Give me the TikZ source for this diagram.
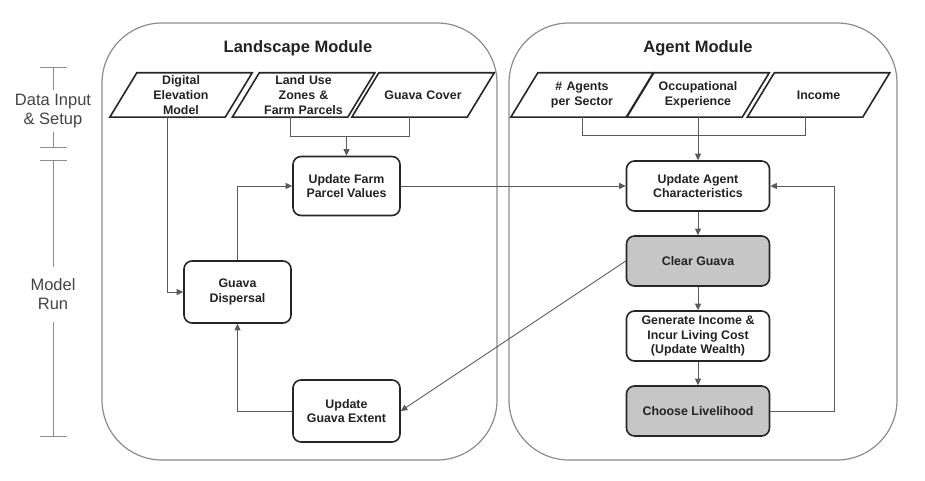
\documentclass[tikz,border=0pt]{standalone}
\usepackage{fontspec}
\setmainfont{Liberation Sans}
\usepackage{xcolor}
\usetikzlibrary{shapes.geometric, arrows.meta, positioning, calc}

\definecolor{modline}{HTML}{8C8C8C}
\definecolor{boxline}{HTML}{262626}
\definecolor{linkline}{HTML}{5A5A5A}
\definecolor{boxshade}{HTML}{C6C6C6}
\definecolor{inktext}{HTML}{222222}

\begin{document}
\begin{tikzpicture}[
    x=1pt, y=1pt,
    node distance=75pt,
    module/.style={rectangle, draw=modline, line width=1.2pt, rounded corners=60pt, minimum height=437pt},
    modtitle/.style={font=\fontsize{16.5}{20}\selectfont\bfseries, text=inktext},
    datain/.style={rectangle, text width=84pt, minimum height=44pt, inner xsep=2pt, inner ysep=0pt, align=center, text=inktext, font=\fontsize{12.4}{14.6}\selectfont\bfseries},
    paraline/.style={draw=boxline, line width=1.6pt, line join=miter},
    box/.style={rectangle, draw=boxline, line width=1.6pt, fill=white, rounded corners=8pt, align=center, text=inktext, font=\fontsize{12.4}{14.6}\selectfont\bfseries},
    lbox/.style={box, minimum width=107pt, minimum height=62pt},
    rbox/.style={box, minimum width=143pt, minimum height=50pt, inner ysep=0pt},
    greybox/.style={fill=boxshade},
    link/.style={draw=linkline, line width=0.9pt},
    arrow/.style={link, -{Triangle[length=6.5pt, width=6pt]}},
    span/.style={draw=modline, line width=1pt, {Bar[width=27pt]}-},
    sidetext/.style={align=center, text=inktext!85, font=\fontsize{16.5}{19}\selectfont}
]

\useasboundingbox (0,0) rectangle (925,480);

% Modules
\node[module, minimum width=395pt] (landmod) at (299.5,238.5) {};
\node[module, minimum width=388pt] (agentmod) at (703,238.5) {};
\node[modtitle] (landtitle) at (298,432) {Landscape Module};
\node[modtitle] (agenttitle) at (698,432) {Agent Module};

% Data inputs
\node[datain] (dem) at (181,385) {Digital\\Elevation\\Model};
\node[datain, right of=dem, node distance=122.5pt] (landuse) {Land Use\\Zones \&\\Farm Parcels};
\node[datain, right of=landuse, node distance=119.5pt] (cover) {Guava Cover};
\node[datain] (agents) at (582,385) {\# Agents\\per Sector};
\node[datain, right of=agents, node distance=116pt] (occup) {Occupational\\Experience};
\node[datain, right of=occup, node distance=120.5pt] (income) {Income};
\foreach \n in {dem,landuse,cover,agents,occup,income}
    \draw[paraline] ([xshift=-27pt]\n.south west) -- (\n.north west)
        -- ([xshift=27pt]\n.north east) -- (\n.south east) -- cycle;

% Landscape processes
\node[lbox, minimum height=59pt] (farm) at (346.5,294) {Update Farm\\Parcel Values};
\node[lbox] (disp) at (237.5,188) {Guava\\Dispersal};
\node[lbox] (extent) at (346.5,69) {Update\\Guava Extent};

% Agent processes
\node[rbox] (agentupd) at (698,294) {Update Agent\\Characteristics};
\node[rbox, greybox, below of=agentupd] (clear) {Clear Guava};
\node[rbox, below of=clear] (wealth) {Generate Income \&\\Incur Living Cost\\(Update Wealth)};
\node[rbox, greybox, below of=wealth] (choose) {Choose Livelihood};

% Timeline
\node[sidetext, inner ysep=3.5pt] (setup) at (53,369) {Data Input\\\& Setup};
\node[sidetext, inner ysep=12pt] (modelrun) at (53,185.5) {Model\\Run};
\coordinate (setuptop) at (53,413);
\coordinate (setupend) at (53,332);
\coordinate (runtop) at (53,320);
\coordinate (runend) at (53,43);
\draw[span] (setuptop) -- (setup);
\draw[span] (setupend) -- (setup);
\draw[span] (runtop) -- (modelrun);
\draw[span] (runend) -- (modelrun);

% Inputs into updates
\coordinate (ljoin) at ($(farm.north)+(0,19)$);
\draw[link] ([xshift=-13.5pt]landuse.south) |- (ljoin) -| ([xshift=-13.5pt]cover.south);
\draw[arrow] (ljoin) -- (farm);
\coordinate (rjoin) at ($(agentupd.north)+(0,25)$);
\draw[link] (agents.south) |- (rjoin) -| ([xshift=-13.5pt]income.south);
\draw[arrow] (occup.south) -- (agentupd);

% Landscape loop
\draw[arrow] ([xshift=-13.5pt]dem.south) |- (disp);
\draw[arrow] (disp) |- (farm);
\draw[arrow] (extent) -| (disp);
\draw[arrow] (farm) -- (agentupd);

% Agent loop
\draw[arrow] (agentupd) -- (clear);
\draw[arrow] (clear) -- (wealth);
\draw[arrow] (wealth) -- (choose);
\draw[arrow] (choose.east) -- ++(64,0) |- (agentupd.east);
\draw[arrow] (clear.west) -- (extent.east);

\end{tikzpicture}
\end{document}
